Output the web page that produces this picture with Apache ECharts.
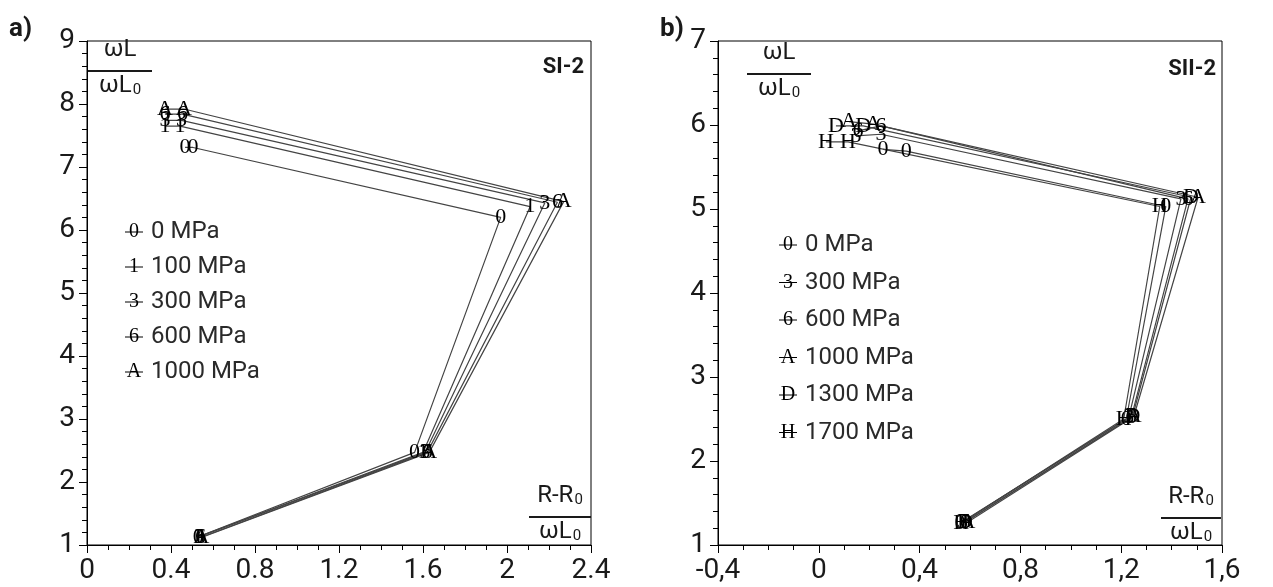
<!DOCTYPE html>
<head>
    <meta charset="utf-8">
    <title>ECharts</title>
</head>
<body style="margin:0;background:#fff">
<div id="main" style="width:1273px;height:587px"></div>
<script src="https://cdn.jsdelivr.net/npm/echarts@6/dist/echarts.min.js"></script>
<script type="text/javascript">
    // tick labels
    var xTicksA = ['0', '0.4', '0.8', '1.2', '1.6', '2', '2.4'];
    var yTicksA = ['1', '2', '3', '4', '5', '6', '7', '8', '9'];
    var xTicksB = ['-0,4', '0', '0,4', '0,8', '1,2', '1,6'];
    var yTicksB = ['1', '2', '3', '4', '5', '6', '7'];

    // panel a) SI-2
    var namesA = ['0 MPa', '100 MPa', '300 MPa', '600 MPa', '1000 MPa'];
    var marksA = ['0', '1', '3', '6', 'A'];
    var a0 = [[0.53, 1.13], [1.56, 2.47], [1.97, 6.2], [0.505, 7.31], [0.467, 7.31]];
    var a100 = [[0.53, 1.13], [1.60, 2.47], [2.11, 6.37], [0.443, 7.65], [0.371, 7.65]];
    var a300 = [[0.535, 1.13], [1.61, 2.47], [2.18, 6.43], [0.45, 7.74], [0.371, 7.74]];
    var a600 = [[0.54, 1.12], [1.62, 2.47], [2.24, 6.44], [0.455, 7.84], [0.371, 7.84]];
    var a1000 = [[0.545, 1.12], [1.63, 2.47], [2.27, 6.45], [0.462, 7.92], [0.371, 7.92]];

    // panel b) SII-2
    var namesB = ['0 MPa', '300 MPa', '600 MPa', '1000 MPa', '1300 MPa', '1700 MPa'];
    var marksB = ['0', '3', '6', 'A', 'D', 'H'];
    var b0 = [[0.56, 1.26], [1.22, 2.5], [1.377, 5.03], [0.347, 5.69], [0.255, 5.71]];
    var b300 = [[0.57, 1.27], [1.23, 2.52], [1.437, 5.12], [0.247, 5.89], [0.148, 5.87]];
    var b600 = [[0.58, 1.27], [1.24, 2.52], [1.465, 5.12], [0.247, 5.99], [0.156, 5.93]];
    var b1000 = [[0.59, 1.27], [1.25, 2.53], [1.505, 5.14], [0.216, 6.01], [0.12, 6.04]];
    var b1300 = [[0.58, 1.27], [1.245, 2.53], [1.477, 5.14], [0.176, 5.99], [0.068, 5.99]];
    var b1700 = [[0.565, 1.26], [1.21, 2.5], [1.353, 5.03], [0.116, 5.8], [0.028, 5.8]];

    var seriesA = [a0, a100, a300, a600, a1000];
    var seriesB = [b0, b300, b600, b1000, b1300, b1700];

    var myChart = echarts.init(document.getElementById('main'));

    var gridA = {left: 87, top: 41, width: 504, height: 504};
    var gridB = {left: 718, top: 41, width: 504, height: 504};
    var tickFont = {fontFamily: 'Roboto', fontSize: 28, color: '#1a1a1a'};

    function xAxis(idx, min, max, labels) {
        return {
            type: 'value', gridIndex: idx, min: min, max: max, interval: 0.4,
            axisLine: {onZero: false, lineStyle: {color: '#000', width: 1}},
            axisTick: {length: 8, lineStyle: {color: '#000'}},
            minorTick: {show: true, splitNumber: 4, length: 5, lineStyle: {color: '#000'}},
            splitLine: {show: false},
            axisLabel: Object.assign({margin: 12, formatter: function (v, i) { return labels[i]; }}, tickFont)
        };
    }
    function yAxis(idx, min, max, labels) {
        return {
            type: 'value', gridIndex: idx, min: min, max: max, interval: 1,
            axisLine: {onZero: false, lineStyle: {color: '#000', width: 1}},
            axisTick: {length: 8, lineStyle: {color: '#000'}},
            minorTick: {show: true, splitNumber: 5, length: 5, lineStyle: {color: '#000'}},
            splitLine: {show: false},
            axisLabel: Object.assign({margin: 12, formatter: function (v, i) { return labels[i]; }}, tickFont)
        };
    }

    function makeSeries(data, mark, idx) {
        return {
            type: 'line', xAxisIndex: idx, yAxisIndex: idx,
            data: data, symbol: 'circle', symbolSize: 1,
            itemStyle: {color: 'rgba(0,0,0,0)'},
            lineStyle: {color: '#444', width: 1.2},
            label: {
                show: true, position: 'inside', formatter: mark,
                fontFamily: 'Liberation Serif', fontSize: 22, color: '#000'
            },
            z: 3
        };
    }

    var series = [];
    seriesA.forEach(function (d, i) { series.push(makeSeries(d, marksA[i], 0)); });
    seriesB.forEach(function (d, i) { series.push(makeSeries(d, marksB[i], 1)); });

    // legends drawn as text with a strike line through the symbol
    function legend(x0, y0, gap, marks, names) {
        var out = [];
        marks.forEach(function (m, i) {
            var y = y0 + i * gap;
            out.push({type: 'text', x: x0, y: y, style: {text: m, font: '20px "Liberation Serif"', fill: '#000', textAlign: 'center', textVerticalAlign: 'middle'}});
            out.push({type: 'line', shape: {x1: x0 - 9, y1: y, x2: x0 + 9, y2: y}, style: {stroke: '#000', lineWidth: 1}});
            out.push({type: 'text', x: x0 + 17, y: y, style: {text: names[i], font: '24px Roboto', fill: '#2a2a2a', textVerticalAlign: 'middle'}});
        });
        return out;
    }
    var sub = {s: {fontSize: 15, fontFamily: 'Roboto', fill: '#1a1a1a', padding: [9, 0, 0, 1]}, n: {fontSize: 24, fontFamily: 'Roboto', fill: '#1a1a1a'}};
    function fraction(cx, y, top, bottom, w) {
        return [
            {type: 'text', x: cx, y: y - 9, style: {text: top, rich: sub, textAlign: 'center', textVerticalAlign: 'bottom'}},
            {type: 'line', shape: {x1: cx - w / 2, y1: y, x2: cx + w / 2, y2: y}, style: {stroke: '#1a1a1a', lineWidth: 1.8}},
            {type: 'text', x: cx, y: y + 3, style: {text: bottom, rich: sub, textAlign: 'center', textVerticalAlign: 'top'}}
        ];
    }

    var graphic = []
        .concat(legend(134, 232, 35, marksA, namesA))
        .concat(legend(788, 245, 37.5, marksB, namesB))
        .concat(fraction(120, 71, '{n|ωL}', '{n|ωL}{s|0}', 64))
        .concat(fraction(560, 517, '{n|R-R}{s|0}', '{n|ωL}{s|0}', 62))
        .concat(fraction(779, 74, '{n|ωL}', '{n|ωL}{s|0}', 64))
        .concat(fraction(1191, 518, '{n|R-R}{s|0}', '{n|ωL}{s|0}', 60))
        .concat([
            {type: 'text', x: 9, y: 16, style: {text: 'a)', font: 'bold 26px Roboto', fill: '#1a1a1a'}},
            {type: 'text', x: 660, y: 16, style: {text: 'b)', font: 'bold 26px Roboto', fill: '#1a1a1a'}},
            {type: 'text', x: 584, y: 56, style: {text: 'SI-2', font: 'bold 22px Roboto', fill: '#1a1a1a', textAlign: 'right'}},
            {type: 'text', x: 1216, y: 58, style: {text: 'SII-2', font: 'bold 22px Roboto', fill: '#1a1a1a', textAlign: 'right'}}
        ]);

    myChart.setOption({
        animation: false,
        grid: [
            Object.assign({show: true, borderColor: '#000', borderWidth: 1}, gridA),
            Object.assign({show: true, borderColor: '#000', borderWidth: 1}, gridB)
        ],
        xAxis: [xAxis(0, 0, 2.4, xTicksA), xAxis(1, -0.4, 1.6, xTicksB)],
        yAxis: [yAxis(0, 1, 9, yTicksA), yAxis(1, 1, 7, yTicksB)],
        series: series,
        graphic: graphic
    });
</script>
</body>
